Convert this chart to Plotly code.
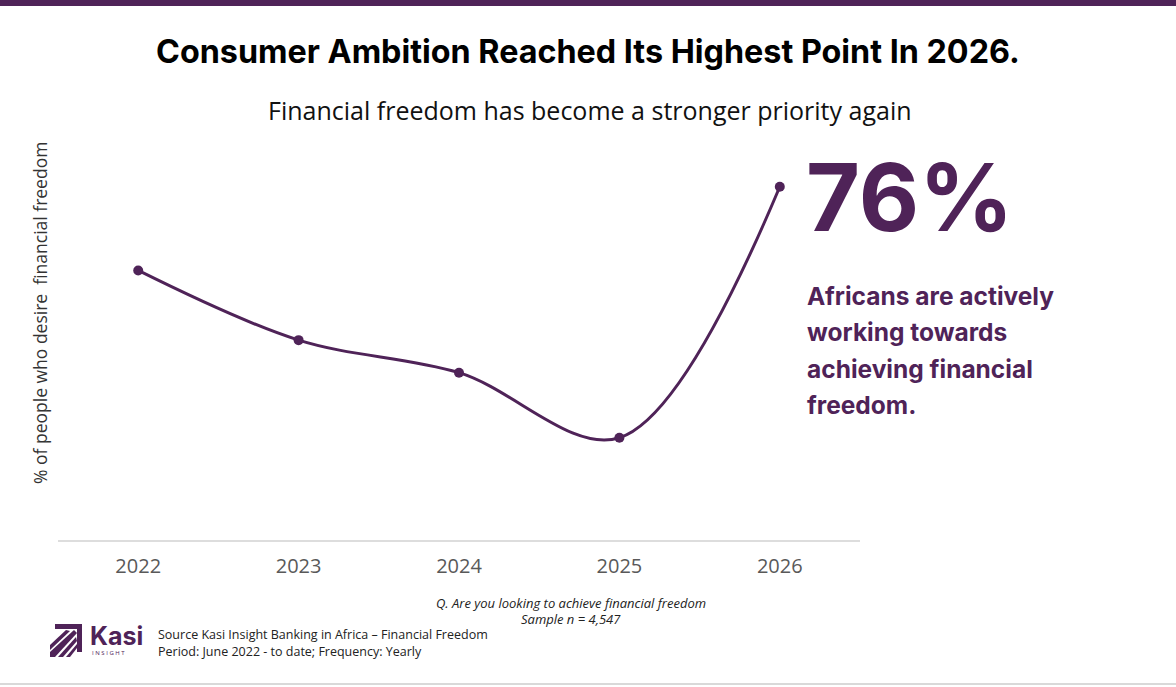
import plotly.graph_objects as go

years = ["2022", "2023", "2024", "2025", "2026"]
share_pct = [58, 43, 36, 22, 76]

W, H = 1176, 687
L, R, T, B = 58, 860, 131, 540
PURPLE = "#4f2358"

def px(x):
    return (x - L) / (R - L)

def py(y):
    return (B - y) / (B - T)

fig = go.Figure()
fig.add_trace(go.Scatter(
    x=years, y=share_pct, mode="lines+markers",
    line=dict(color=PURPLE, width=3, shape="spline", smoothing=1.0),
    marker=dict(color=PURPLE, size=10),
    hoverinfo="x+y", showlegend=False,
))

fig.update_layout(
    width=W, height=H,
    margin=dict(l=L, r=W - R, t=T, b=H - B),
    paper_bgcolor="white", plot_bgcolor="white",
    font=dict(family="Open Sans, sans-serif"),
    xaxis=dict(type="category", range=[-0.5, 4.5], showgrid=False, zeroline=False,
               showline=True, linecolor="#dddddd", linewidth=1.5, ticks="",
               tickfont=dict(size=20, color="#595959", family="Open Sans"), ticklabelstandoff=7),
    yaxis=dict(range=[0, 88], visible=False),
)

shapes = []
# top purple band
shapes.append(dict(type="rect", xref="paper", yref="paper", x0=px(0), x1=px(W), y0=py(0), y1=py(6),
                   fillcolor=PURPLE, line=dict(width=0), layer="above"))
# bottom gray line
shapes.append(dict(type="line", xref="paper", yref="paper", x0=px(0), x1=px(W), y0=py(684), y1=py(684),
                   line=dict(color="#d9d9d9", width=2)))

# logo icon
def path(points):
    d = "M " + " L ".join(f"{px(x):.5f},{py(y):.5f}" for x, y in points) + " Z"
    return dict(type="path", xref="paper", yref="paper", path=d, fillcolor=PURPLE, line=dict(width=0))

shapes.append(path([(55, 624), (82, 624), (82, 652), (77, 652), (77, 629), (55, 629)]))
shapes.append(path([(50, 652), (74, 630), (77, 633), (55, 657), (50, 657)]))
shapes.append(path([(58, 657), (76, 637), (77, 641), (63, 657)]))
shapes.append(path([(66, 657), (77, 644), (77, 648), (70, 657)]))
shapes.append(path([(50, 645), (66, 630), (70, 631), (50, 650)]))
fig.update_layout(shapes=shapes)

ann = []
def text(x, y, t, size, color="#000", xanchor="center", yanchor="middle", family="Open Sans", textangle=0, **kw):
    ann.append(dict(xref="paper", yref="paper", x=px(x), y=py(y), text=t, showarrow=False,
                    xanchor=xanchor, yanchor=yanchor, textangle=textangle,
                    font=dict(size=size, color=color, family=family), **kw))

text(588, 51, "<b>Consumer Ambition Reached Its Highest Point In 2026.</b>", 32.3, "#000000", family="Inter")
text(590, 110, "Financial freedom has become a stronger priority again", 25, "#111111")
text(40, 313, "% of people who desire  financial freedom", 17.5, "#333333", textangle=-90)
text(804, 197, "<b>76%</b>", 93, PURPLE, xanchor="left", family="Inter")
for i, line in enumerate(["Africans are actively", "working towards", "achieving financial", "freedom."]):
    text(805, 296 + 36.3 * i, f"<b>{line}</b>", 24.5, PURPLE, xanchor="left", family="Inter")
text(571, 603, "<i>Q. Are you looking to achieve financial freedom</i>", 13, "#222222")
text(571, 619, "<i>Sample n = 4,547</i>", 13, "#222222")
text(156, 634, "Source Kasi Insight Banking in Africa – Financial Freedom", 12.5, "#222222", xanchor="left")
text(156, 651, "Period: June 2022 - to date; Frequency: Yearly", 12.5, "#222222", xanchor="left")
text(88, 636, "<b>Kasi</b>", 25, PURPLE, xanchor="left", family="Inter")
text(90, 653, "I N S I G H T", 6, PURPLE, xanchor="left")
fig.update_layout(annotations=ann)

fig.write_html("out.html")
